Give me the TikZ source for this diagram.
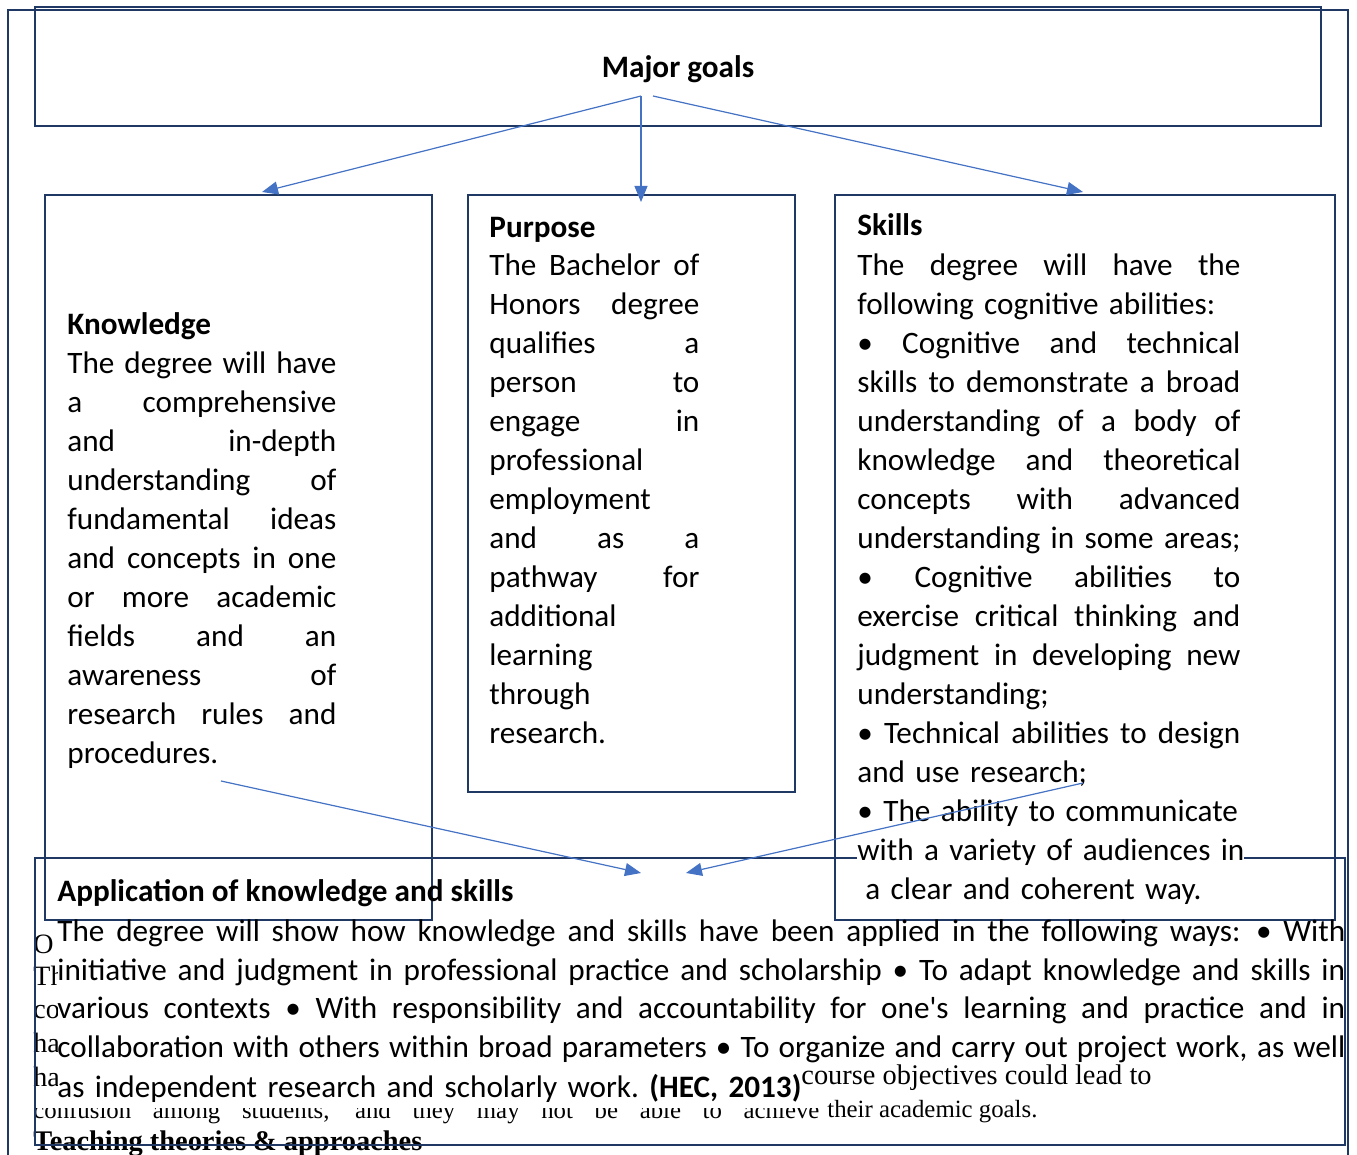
\documentclass[tikz,border=0pt]{standalone}
\usepackage{fontspec}
\setmainfont{Carlito}
\newfontfamily\bgserif{Liberation Serif}
\usetikzlibrary{arrows.meta}
\definecolor{boxnavy}{HTML}{1F3864}
\definecolor{arrowblue}{HTML}{4472C4}
% one justified line, and one plain line, of a box text
\newlength{\linew}
\newcommand{\jl}[1]{\makebox[\linew][s]{\spaceskip=0.226em plus 2em minus 0.12em #1}\par}
\newcommand{\nl}[1]{\mbox{#1}\par}
\tikzset{
  goalbox/.style={draw=boxnavy, line width=1.25pt},
  bodytext/.style={anchor=base west, inner sep=0pt, text width=#1,
    execute at begin node={\setlength{\linew}{#1}},
    font=\fontsize{15.6}{19.5}\selectfont},
  titletext/.style={anchor=base west, inner sep=0pt,
    font=\fontsize{15.6}{19.5}\selectfont\bfseries},
  serifbit/.style={anchor=base west, inner sep=0pt,
    font=\bgserif\fontsize{12.4}{16}\selectfont},
  goalarrow/.style={draw=arrowblue, line width=0.6pt,
    -{Triangle[length=8pt,width=6.5pt]}},
}
\begin{document}
\begin{tikzpicture}[x=0.5pt,y=-0.5pt]
\useasboundingbox (0,0) rectangle (1357,1155);
% text lying behind the chart
\begin{scope}[serifbit/.append style={font=\bgserif\fontsize{14}{16}\selectfont}]
  \clip (25,925) rectangle (57,1100);
  \node[serifbit] (bg-o) at (33,953) {O};
  \node[serifbit] (bg-th) at (33,985) {Th};
  \node[serifbit] (bg-co) at (33,1018) {co};
  \node[serifbit] (bg-ha) at (33,1052) {ha};
  \node[serifbit] (bg-hb) at (33,1086) {ha};
\end{scope}
\begin{scope}
  \clip (25,1108) rectangle (826,1135);
  \node[serifbit] (bg-conf) at (33,1118)
    {\makebox[393pt][s]{confusion among students, and they may not be able to achieve}};
\end{scope}
\node[serifbit] (bg-goals) at (827,1117) {their academic goals.};
\node[serifbit, font=\bgserif\fontsize{14.2}{16}\selectfont] (bg-course)
  at (801,1084) {course objectives could lead to};
\node[serifbit, font=\bgserif\bfseries\fontsize{14.2}{16}\selectfont] (bg-teach)
  at (33,1150) {Teaching theories \& approaches};

% frame and boxes
\draw[boxnavy, line width=1pt] (8,1170) -- (8,10) -- (1348,10) -- (1348,1170);
\draw[goalbox] (35,7) rectangle (1321,126);
\draw[goalbox] (45,195) rectangle (432,920);
\draw[goalbox] (468,195) rectangle (795,792);
\draw[goalbox] (835,195) rectangle (1335,920);
\draw[goalbox] (35,858) rectangle (1345,1145);

% texts
\node[titletext, anchor=base] (majorgoals) at (678,78) {Major goals};

\node[titletext] (know-title) at (67,335) {Knowledge};
\node[bodytext=134.5pt] (knowledge) at (67,374) {%
\jl{The degree will have}
\jl{a comprehensive}
\jl{and in-depth}
\jl{understanding of}
\jl{fundamental ideas}
\jl{and concepts in one}
\jl{or more academic}
\jl{fields and an}
\jl{awareness of}
\jl{research rules and}
\nl{procedures.}};

\node[titletext] (purp-title) at (489,238) {Purpose};
\node[bodytext=105pt] (purpose) at (489,276) {%
\jl{The Bachelor of}
\jl{Honors degree}
\jl{qualifies a}
\jl{person to}
\jl{engage in}
\nl{professional}
\nl{employment}
\jl{and as a}
\jl{pathway for}
\nl{additional}
\nl{learning}
\nl{through}
\nl{research.}};

\node[titletext] (skill-title) at (857,236) {Skills};
\node[bodytext=191.5pt] (skills) at (857,276) {%
\jl{The degree will have the}
\nl{following cognitive abilities:}
\jl{\textbullet\ Cognitive and technical}
\jl{skills to demonstrate a broad}
\jl{understanding of a body of}
\jl{knowledge and theoretical}
\jl{concepts with advanced}
\nl{understanding in some areas;}
\jl{\textbullet\ Cognitive abilities to}
\jl{exercise critical thinking and}
\jl{judgment in developing new}
\nl{understanding;}
\jl{\textbullet\ Technical abilities to design}
\nl{and use research;}
\nl{\textbullet\ The ability to communicate}
\nl{\setlength{\fboxsep}{0pt}\colorbox{white}{with a variety of audiences in}}
\nl{\hspace{4pt}a clear and coherent way.}};

\node[titletext] (app-title) at (57,901) {Application of knowledge and skills};
\node[bodytext=644pt] (application) at (57,941) {%
\jl{The degree will show how knowledge and skills have been applied in the following ways: \textbullet{} With}
\jl{initiative and judgment in professional practice and scholarship \textbullet{} To adapt knowledge and skills in}
\jl{various contexts \textbullet{} With responsibility and accountability for one\textquotesingle s learning and practice and in}
\jl{collaboration with others within broad parameters \textbullet{} To organize and carry out project work, as well}
\nl{as independent research and scholarly work.\ \textbf{(HEC, 2013)}}};

% connectors
\coordinate (mg-split) at (641,96);
\coordinate (mg-right) at (653,96);
\coordinate (know-top) at (262,192);
\coordinate (purp-top) at (641,202);
\coordinate (skill-top) at (1083,192);
\coordinate (know-tail) at (221,781);
\coordinate (skill-tail) at (1083,783);
\coordinate (app-left) at (641,873);
\coordinate (app-right) at (686,873);
\draw[goalarrow] (mg-split) -- (know-top);
\draw[goalarrow] (mg-split) -- (purp-top);
\draw[goalarrow] (mg-right) -- (skill-top);
\draw[goalarrow] (know-tail) -- (app-left);
\draw[goalarrow] (skill-tail) -- (app-right);
\end{tikzpicture}
\end{document}
